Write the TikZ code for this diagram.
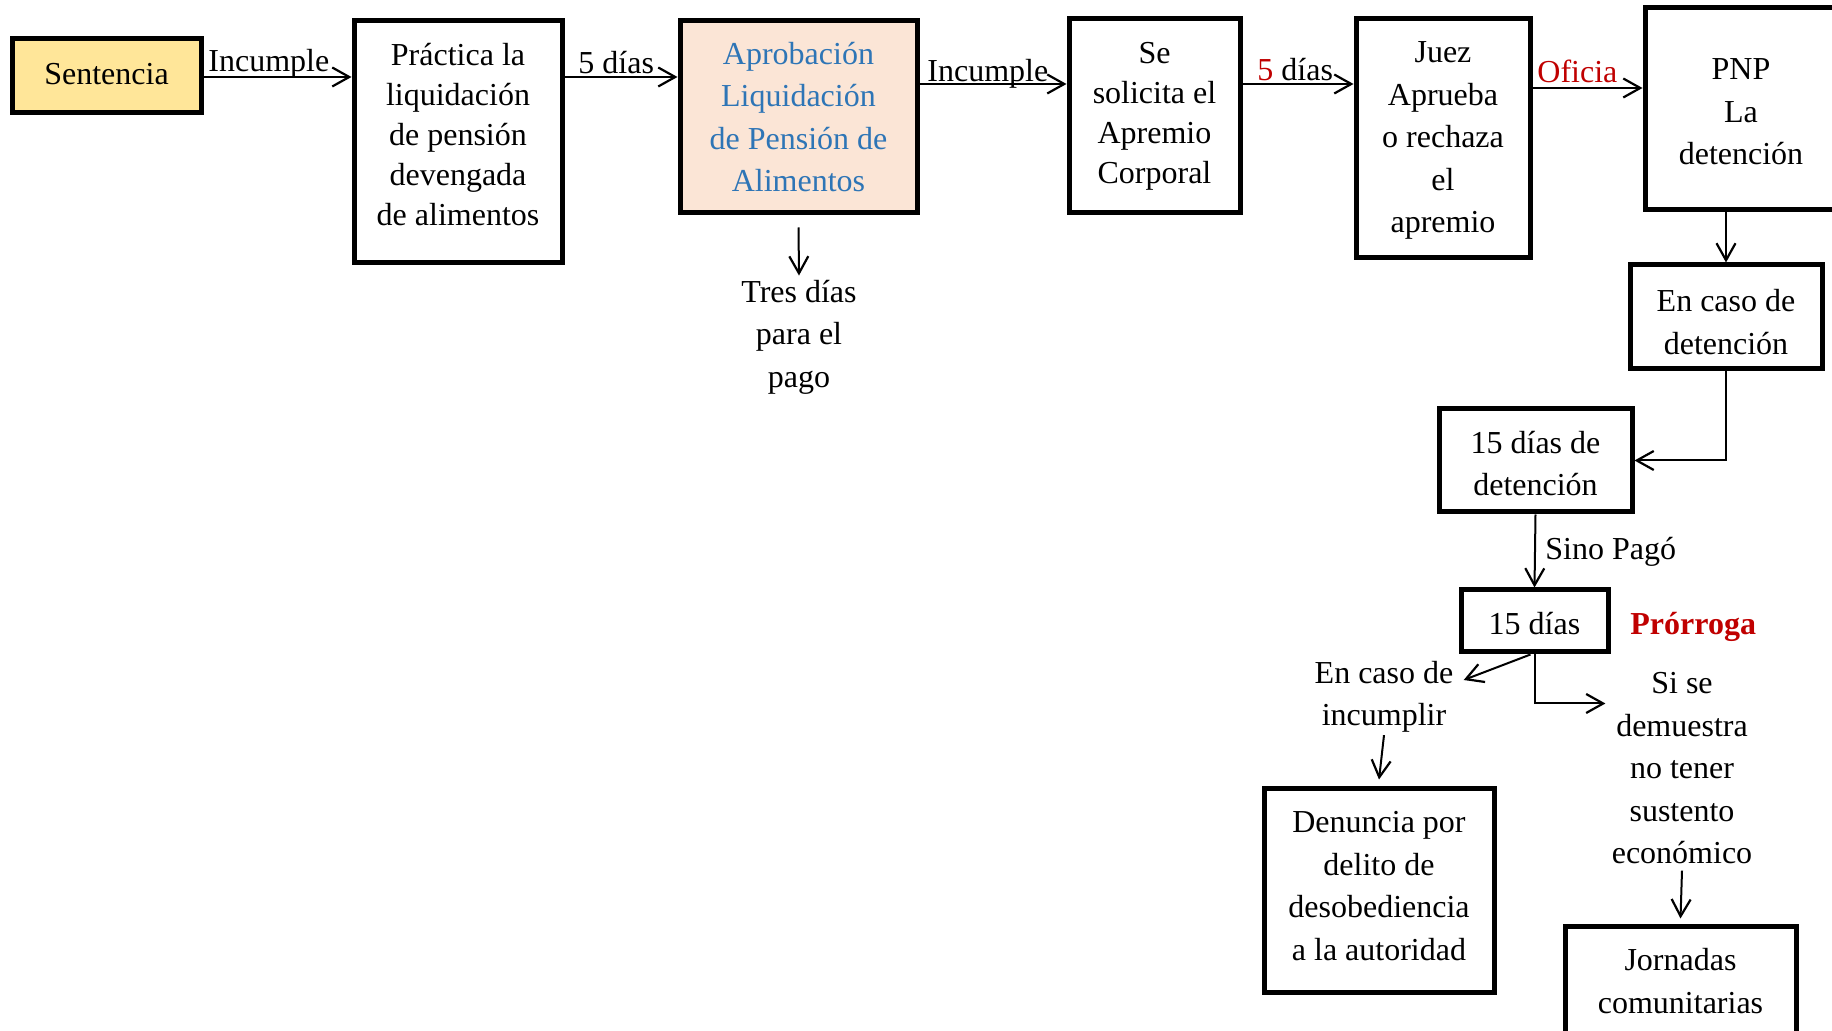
\documentclass[tikz,border=0pt]{standalone}
\usepackage{fontspec}
\setmainfont{Liberation Serif}
\usetikzlibrary{arrows.meta,calc}
\definecolor{goldfill}{HTML}{FFE699}
\definecolor{peachfill}{HTML}{FBE5D6}
\definecolor{bluetext}{HTML}{2E75B6}
\definecolor{redtext}{HTML}{C00000}
\begin{document}
\begin{tikzpicture}[x=0.5pt,y=-0.5pt,
  box/.style={draw=black, line width=2.5pt, inner sep=0pt},
  boxtext/.style={align=center, inner sep=0pt, font=\fontsize{16}{21.25}\selectfont},
  tighttext/.style={boxtext, font=\fontsize{16}{20}\selectfont},
  arr/.style={-{Straight Barb[length=8.5pt,width=9.5pt,line width=1.1pt]}, line width=1pt},
  lbl/.style={font=\fontsize{16}{21.25}\selectfont, inner sep=0pt},
  txt/.style={align=center, font=\fontsize{16}{21.25}\selectfont, inner sep=3pt}]
\path[use as bounding box, clip] (0,0) rectangle (1832,1031);
\fill[white] (0,0) rectangle (1832,1031);

% boxes
\node[box, fill=goldfill, minimum width=94.5pt, minimum height=37pt,
  label={[boxtext, name=sentT, yshift=1pt]center:Sentencia}] (sent) at (106.5,76) {};
\node[box, minimum width=104pt, minimum height=121pt,
  label={[tighttext, name=pracT, yshift=3.5pt]center:{Práctica la\\liquidación\\de pensión\\devengada\\de alimentos}}] (prac) at (458,142) {};
\node[box, fill=peachfill, minimum width=118.5pt, minimum height=96pt,
  label={[boxtext, text=bluetext, name=aprobT]center:{Aprobación\\Liquidación\\de Pensión de\\Alimentos}}] (aprob) at (798.5,117) {};
\node[box, minimum width=85.5pt, minimum height=97pt,
  label={[tighttext, name=soliT]center:{Se\\solicita el\\Apremio\\Corporal}}] (soli) at (1154.5,116) {};
\node[box, minimum width=87pt, minimum height=119.5pt,
  label={[boxtext, name=juezT, yshift=-1pt]center:{Juez\\Aprueba\\o rechaza\\el\\apremio}}] (juez) at (1443,138.5) {};
\node[box, minimum width=96pt, minimum height=101pt,
  label={[boxtext, name=pnpT, yshift=-1.5pt]center:{PNP\\La\\detención}}] (pnp) at (1741,109) {};
\node[box, minimum width=96pt, minimum height=52pt,
  label={[boxtext, name=detcT, yshift=-2.5pt]center:{En caso de\\detención}}] (detc) at (1726,317) {};
\node[box, minimum width=96.5pt, minimum height=51.5pt,
  label={[boxtext, name=d15T, yshift=-1.5pt]center:{15 días de\\detención}}] (d15) at (1535.5,460.5) {};
\node[box, minimum width=73.5pt, minimum height=31pt,
  label={[boxtext, name=p15T, yshift=-1.5pt]center:{15 días}}] (p15) at (1534.5,621) {};
\node[box, minimum width=115pt, minimum height=102pt,
  label={[boxtext, name=denT, yshift=2pt]center:{Denuncia por\\delito de\\desobediencia\\a la autoridad}}] (den) at (1379,890) {};
\node[box, minimum width=115.5pt, minimum height=55pt,
  label={[boxtext, name=jorT]center:{Jornadas\\comunitarias}}] (jor) at (1680.5,981) {};

% free texts
\node[txt] (tres) at (799,337) {Tres días\\para el\\pago};
\node[txt] (inc) at (1384,697) {En caso de\\incumplir};
\node[txt] (si) at (1682,768.5) {Si se\\demuestra\\no tener\\sustento\\económico};
\node[lbl, anchor=west] (sino) at (1545,552) {Sino Pagó};
\node[lbl, anchor=west, text=redtext, font=\fontsize{16}{21.25}\selectfont\bfseries] (pror) at (1630,627) {Prórroga};

% row coordinates
\coordinate (r1) at (0,77);
\coordinate (r2) at (0,84);
\coordinate (r3) at (0,88);

% connectors
\draw[arr] (sent.east |- r1) -- (prac.west |- r1);
\draw[arr] (prac.east |- r1) -- (aprob.west |- r1);
\draw[arr] (aprob.east |- r2) -- (soli.west |- r2);
\draw[arr] (soli.east |- r2) -- (juez.west |- r2);
\draw[arr] (juez.east |- r3) -- (pnp.west |- r3);
\draw[arr] ([yshift=-6pt]aprob.south) -- ([yshift=-1pt]tres.north);
\draw[arr] (pnp.south -| detc.north) -- (detc.north);
\draw[arr] (detc.south) |- (d15.east);
\draw[arr] (d15.south) -- (p15.north);
\draw[arr] ([xshift=-2pt]p15.south) -- ([xshift=2pt,yshift=8.5pt]inc.east);
\draw[arr] (p15.south) |- ([yshift=32.5pt]si.west);
\draw[arr] ([yshift=2pt]inc.south) -- ([yshift=3pt]den.north);
\draw[arr] (si.south) -- ([yshift=2.5pt]jor.north);

% connector labels
\node[lbl, anchor=base west] (l1) at (208,72) {Incumple};
\node[lbl, anchor=base west] (l2) at (578,74) {5 días};
\node[lbl, anchor=base west] (l3) at (927,82) {Incumple};
\node[lbl, anchor=base west] (l4) at (1257,81) {\textcolor{redtext}{5} días};
\node[lbl, anchor=base west, text=redtext] (l5) at (1537,83) {Oficia};
\end{tikzpicture}
\end{document}
